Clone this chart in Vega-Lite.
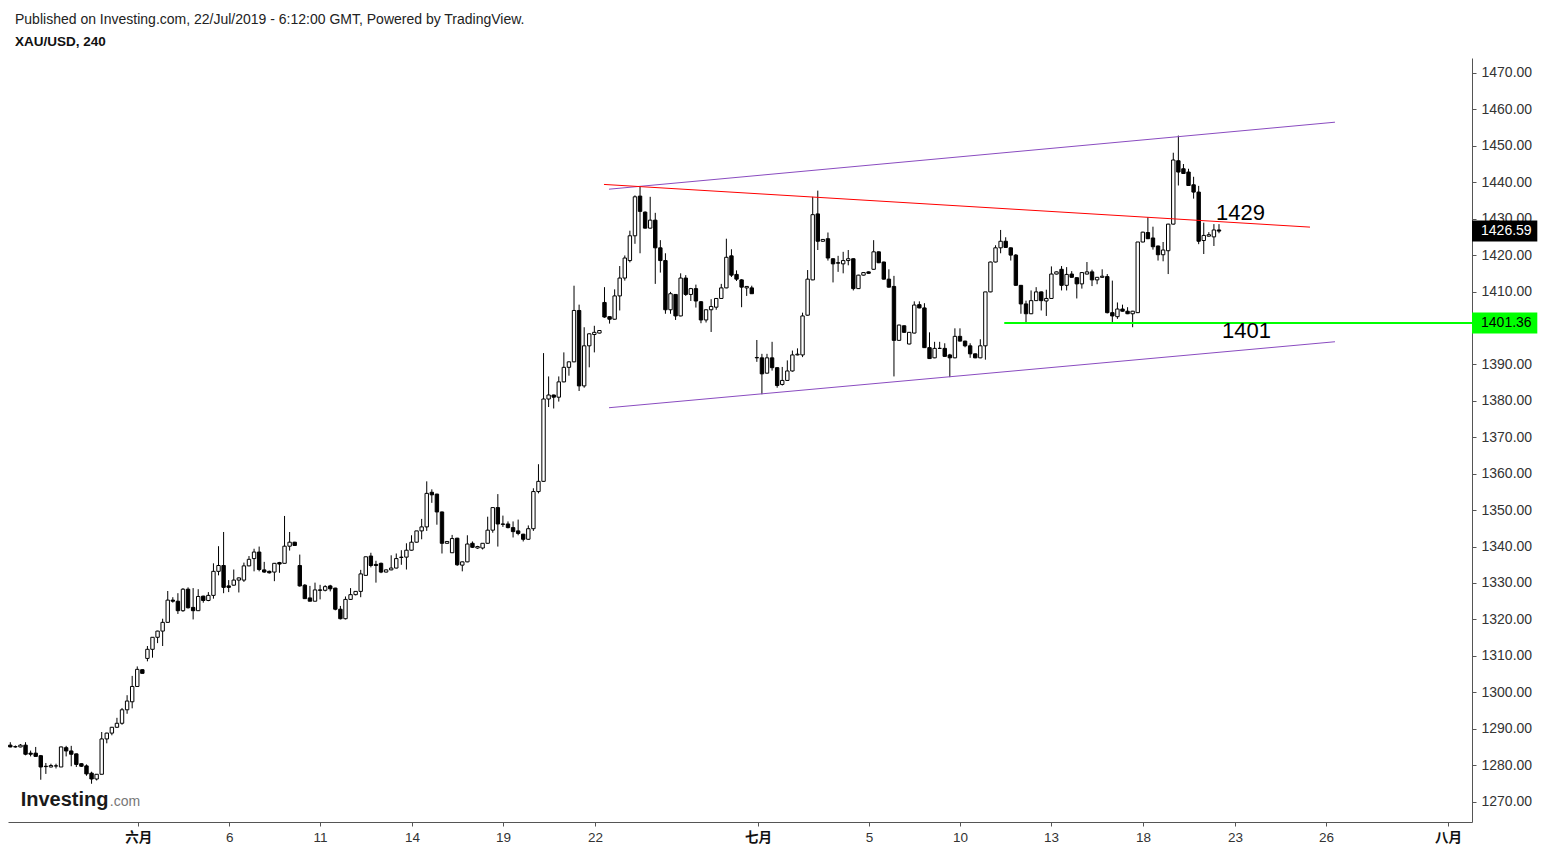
{
  "$schema": "https://vega.github.io/schema/vega-lite/v6.json",
  "width": 1464,
  "height": 764,
  "autosize": {"type": "none"},
  "padding": {"left": 8, "top": 58, "right": 72, "bottom": 30},
  "background": "white",
  "config": {"view": {"stroke": null}, "font": "Liberation Sans", "scale": {"continuousPadding": 0}},
  "title": {
    "text": "Published on Investing.com, 22/Jul/2019 - 6:12:00 GMT, Powered by TradingView.",
    "subtitle": "XAU/USD, 240",
    "anchor": "start",
    "frame": "group",
    "offset": 10,
    "dx": 7,
    "font": "Liberation Sans",
    "fontSize": 14,
    "fontWeight": "normal",
    "color": "#222222",
    "subtitleFont": "Liberation Sans",
    "subtitleFontSize": 13.5,
    "subtitleFontWeight": "bold",
    "subtitleColor": "#111111",
    "subtitlePadding": 8
  },
  "datasets": {
    "candles": [
      {"i":0,"o":1285.5,"h":1286.3,"l":1284.9,"c":1285.0},
      {"i":1,"o":1285.0,"h":1285.4,"l":1284.8,"c":1285.1},
      {"i":2,"o":1285.0,"h":1285.8,"l":1284.9,"c":1285.5},
      {"i":3,"o":1285.5,"h":1286.3,"l":1282.7,"c":1283.0},
      {"i":4,"o":1283.3,"h":1284.0,"l":1282.4,"c":1283.0},
      {"i":5,"o":1283.3,"h":1285.0,"l":1282.4,"c":1282.4},
      {"i":6,"o":1282.6,"h":1282.8,"l":1276.0,"c":1279.5},
      {"i":7,"o":1279.6,"h":1280.6,"l":1277.6,"c":1279.7},
      {"i":8,"o":1279.5,"h":1280.4,"l":1279.4,"c":1279.9},
      {"i":9,"o":1279.8,"h":1280.4,"l":1279.1,"c":1279.8},
      {"i":10,"o":1279.5,"h":1285.1,"l":1279.5,"c":1285.0},
      {"i":11,"o":1284.8,"h":1285.3,"l":1282.4,"c":1283.9},
      {"i":12,"o":1283.9,"h":1285.3,"l":1279.7,"c":1283.0},
      {"i":13,"o":1283.1,"h":1283.2,"l":1279.5,"c":1280.2},
      {"i":14,"o":1280.4,"h":1280.5,"l":1279.5,"c":1279.7},
      {"i":15,"o":1279.8,"h":1280.2,"l":1277.1,"c":1277.6},
      {"i":16,"o":1277.8,"h":1278.2,"l":1274.9,"c":1276.2},
      {"i":17,"o":1276.2,"h":1277.5,"l":1275.8,"c":1277.5},
      {"i":18,"o":1277.5,"h":1289.1,"l":1277.5,"c":1287.2},
      {"i":19,"o":1287.2,"h":1288.9,"l":1286.0,"c":1288.8},
      {"i":20,"o":1288.8,"h":1290.5,"l":1288.2,"c":1290.4},
      {"i":21,"o":1290.4,"h":1293.0,"l":1290.2,"c":1291.5},
      {"i":22,"o":1291.5,"h":1295.7,"l":1291.1,"c":1295.2},
      {"i":23,"o":1295.2,"h":1299.2,"l":1294.1,"c":1297.6},
      {"i":24,"o":1297.4,"h":1304.5,"l":1295.6,"c":1301.6},
      {"i":25,"o":1301.6,"h":1307.1,"l":1301.5,"c":1306.3},
      {"i":26,"o":1306.2,"h":1306.3,"l":1305.2,"c":1305.2},
      {"i":27,"o":1309.3,"h":1312.7,"l":1308.5,"c":1311.8},
      {"i":28,"o":1311.8,"h":1315.1,"l":1309.5,"c":1315.1},
      {"i":29,"o":1315.1,"h":1316.9,"l":1313.5,"c":1316.8},
      {"i":30,"o":1316.8,"h":1320.2,"l":1312.7,"c":1319.2},
      {"i":31,"o":1319.2,"h":1327.8,"l":1319.2,"c":1325.3},
      {"i":32,"o":1325.3,"h":1326.1,"l":1324.6,"c":1325.0},
      {"i":33,"o":1325.0,"h":1327.2,"l":1321.5,"c":1322.4},
      {"i":34,"o":1322.4,"h":1328.6,"l":1322.1,"c":1328.3},
      {"i":35,"o":1328.3,"h":1328.8,"l":1323.0,"c":1323.2},
      {"i":36,"o":1323.3,"h":1328.6,"l":1320.0,"c":1322.4},
      {"i":37,"o":1322.4,"h":1328.3,"l":1322.4,"c":1326.3},
      {"i":38,"o":1326.4,"h":1326.5,"l":1324.6,"c":1325.2},
      {"i":39,"o":1325.2,"h":1327.5,"l":1325.0,"c":1326.6},
      {"i":40,"o":1326.6,"h":1335.4,"l":1325.7,"c":1333.2},
      {"i":41,"o":1333.2,"h":1340.1,"l":1332.1,"c":1334.8},
      {"i":42,"o":1334.8,"h":1344.0,"l":1327.2,"c":1328.8},
      {"i":43,"o":1329.2,"h":1330.8,"l":1327.5,"c":1328.8},
      {"i":44,"o":1329.4,"h":1333.7,"l":1329.3,"c":1330.8},
      {"i":45,"o":1330.8,"h":1331.5,"l":1327.4,"c":1331.4},
      {"i":46,"o":1330.8,"h":1335.6,"l":1330.3,"c":1334.7},
      {"i":47,"o":1334.7,"h":1337.4,"l":1334.6,"c":1336.5},
      {"i":48,"o":1336.7,"h":1339.4,"l":1333.2,"c":1338.5},
      {"i":49,"o":1338.5,"h":1340.0,"l":1333.2,"c":1333.7},
      {"i":50,"o":1333.6,"h":1335.8,"l":1332.8,"c":1333.0},
      {"i":51,"o":1333.2,"h":1333.4,"l":1332.6,"c":1332.8},
      {"i":52,"o":1333.0,"h":1335.5,"l":1330.5,"c":1335.4},
      {"i":53,"o":1335.6,"h":1335.8,"l":1332.8,"c":1335.2},
      {"i":54,"o":1335.4,"h":1348.4,"l":1335.4,"c":1340.1},
      {"i":55,"o":1340.1,"h":1344.0,"l":1338.9,"c":1341.2},
      {"i":56,"o":1341.2,"h":1341.3,"l":1340.3,"c":1340.3},
      {"i":57,"o":1334.8,"h":1337.8,"l":1329.0,"c":1329.2},
      {"i":58,"o":1329.4,"h":1329.7,"l":1325.7,"c":1325.7},
      {"i":59,"o":1325.9,"h":1329.2,"l":1325.0,"c":1325.0},
      {"i":60,"o":1325.0,"h":1330.1,"l":1325.0,"c":1328.1},
      {"i":61,"o":1328.1,"h":1329.5,"l":1325.5,"c":1328.0},
      {"i":62,"o":1328.0,"h":1329.4,"l":1327.7,"c":1329.0},
      {"i":63,"o":1329.2,"h":1329.5,"l":1327.7,"c":1328.4},
      {"i":64,"o":1328.6,"h":1328.7,"l":1322.5,"c":1322.8},
      {"i":65,"o":1322.8,"h":1323.7,"l":1320.0,"c":1320.2},
      {"i":66,"o":1320.2,"h":1326.3,"l":1320.0,"c":1325.5},
      {"i":67,"o":1325.5,"h":1328.6,"l":1325.4,"c":1326.8},
      {"i":68,"o":1326.8,"h":1327.8,"l":1326.6,"c":1327.7},
      {"i":69,"o":1327.7,"h":1333.6,"l":1326.1,"c":1332.5},
      {"i":70,"o":1332.1,"h":1337.2,"l":1332.1,"c":1337.2},
      {"i":71,"o":1337.4,"h":1338.3,"l":1334.3,"c":1334.8},
      {"i":72,"o":1335.1,"h":1336.1,"l":1330.1,"c":1334.8},
      {"i":73,"o":1335.4,"h":1335.6,"l":1332.7,"c":1333.0},
      {"i":74,"o":1333.0,"h":1333.7,"l":1332.9,"c":1333.6},
      {"i":75,"o":1333.6,"h":1337.6,"l":1333.5,"c":1334.1},
      {"i":76,"o":1334.1,"h":1338.1,"l":1334.0,"c":1336.7},
      {"i":77,"o":1337.0,"h":1339.0,"l":1335.0,"c":1337.1},
      {"i":78,"o":1337.1,"h":1340.9,"l":1333.7,"c":1339.0},
      {"i":79,"o":1339.0,"h":1343.1,"l":1338.9,"c":1341.2},
      {"i":80,"o":1341.2,"h":1344.3,"l":1341.1,"c":1344.3},
      {"i":81,"o":1344.3,"h":1347.6,"l":1342.0,"c":1345.4},
      {"i":82,"o":1345.4,"h":1357.9,"l":1344.3,"c":1354.6},
      {"i":83,"o":1354.9,"h":1355.7,"l":1352.0,"c":1354.2},
      {"i":84,"o":1354.4,"h":1354.5,"l":1346.0,"c":1349.5},
      {"i":85,"o":1349.5,"h":1349.6,"l":1338.1,"c":1340.9},
      {"i":86,"o":1340.9,"h":1341.5,"l":1340.8,"c":1341.4},
      {"i":87,"o":1338.3,"h":1343.2,"l":1338.3,"c":1342.2},
      {"i":88,"o":1342.3,"h":1342.4,"l":1334.7,"c":1335.0},
      {"i":89,"o":1334.9,"h":1335.9,"l":1333.2,"c":1335.8},
      {"i":90,"o":1335.8,"h":1343.1,"l":1335.7,"c":1340.7},
      {"i":91,"o":1340.9,"h":1341.4,"l":1339.6,"c":1339.8},
      {"i":92,"o":1339.6,"h":1340.2,"l":1339.4,"c":1340.0},
      {"i":93,"o":1339.6,"h":1340.9,"l":1339.2,"c":1340.9},
      {"i":94,"o":1340.9,"h":1348.2,"l":1340.8,"c":1344.5},
      {"i":95,"o":1344.5,"h":1350.7,"l":1343.8,"c":1350.7},
      {"i":96,"o":1350.7,"h":1354.4,"l":1340.0,"c":1346.2},
      {"i":97,"o":1346.2,"h":1348.5,"l":1345.4,"c":1346.1},
      {"i":98,"o":1346.2,"h":1346.9,"l":1345.0,"c":1345.2},
      {"i":99,"o":1345.2,"h":1346.9,"l":1342.5,"c":1344.1},
      {"i":100,"o":1344.3,"h":1347.4,"l":1343.1,"c":1343.6},
      {"i":101,"o":1343.4,"h":1343.5,"l":1341.4,"c":1342.0},
      {"i":102,"o":1342.0,"h":1345.8,"l":1341.9,"c":1344.9},
      {"i":103,"o":1344.9,"h":1356.0,"l":1344.3,"c":1355.1},
      {"i":104,"o":1355.1,"h":1362.6,"l":1354.6,"c":1357.9},
      {"i":105,"o":1357.9,"h":1393.1,"l":1357.8,"c":1380.5},
      {"i":106,"o":1380.5,"h":1386.7,"l":1378.3,"c":1381.6},
      {"i":107,"o":1381.6,"h":1381.7,"l":1377.9,"c":1381.0},
      {"i":108,"o":1381.0,"h":1386.7,"l":1379.8,"c":1385.2},
      {"i":109,"o":1385.2,"h":1393.3,"l":1385.1,"c":1389.2},
      {"i":110,"o":1389.2,"h":1390.8,"l":1386.9,"c":1390.7},
      {"i":111,"o":1390.7,"h":1411.6,"l":1390.6,"c":1404.8},
      {"i":112,"o":1404.8,"h":1406.4,"l":1382.7,"c":1384.1},
      {"i":113,"o":1384.1,"h":1400.2,"l":1383.6,"c":1395.1},
      {"i":114,"o":1395.1,"h":1398.5,"l":1389.2,"c":1398.4},
      {"i":115,"o":1398.2,"h":1400.6,"l":1393.3,"c":1398.8},
      {"i":116,"o":1398.6,"h":1399.4,"l":1398.5,"c":1399.3},
      {"i":117,"o":1407.0,"h":1411.2,"l":1402.8,"c":1403.0},
      {"i":118,"o":1403.1,"h":1403.2,"l":1401.2,"c":1402.4},
      {"i":119,"o":1402.4,"h":1410.6,"l":1402.3,"c":1408.8},
      {"i":120,"o":1408.8,"h":1417.0,"l":1404.8,"c":1413.7},
      {"i":121,"o":1413.7,"h":1419.9,"l":1413.0,"c":1419.2},
      {"i":122,"o":1418.5,"h":1426.7,"l":1418.0,"c":1425.3},
      {"i":123,"o":1425.3,"h":1436.4,"l":1423.1,"c":1436.0},
      {"i":124,"o":1436.2,"h":1438.8,"l":1420.5,"c":1432.0},
      {"i":125,"o":1431.8,"h":1432.0,"l":1427.3,"c":1427.4},
      {"i":126,"o":1427.4,"h":1436.0,"l":1427.3,"c":1429.6},
      {"i":127,"o":1429.6,"h":1431.6,"l":1412.1,"c":1422.0},
      {"i":128,"o":1422.0,"h":1424.1,"l":1415.2,"c":1418.5},
      {"i":129,"o":1418.5,"h":1420.5,"l":1403.9,"c":1405.0},
      {"i":130,"o":1405.0,"h":1409.9,"l":1403.9,"c":1409.4},
      {"i":131,"o":1409.2,"h":1409.3,"l":1402.2,"c":1403.3},
      {"i":132,"o":1403.3,"h":1415.0,"l":1403.2,"c":1413.7},
      {"i":133,"o":1413.7,"h":1414.5,"l":1408.8,"c":1409.2},
      {"i":134,"o":1409.2,"h":1411.0,"l":1407.4,"c":1410.8},
      {"i":135,"o":1410.8,"h":1411.9,"l":1405.6,"c":1407.4},
      {"i":136,"o":1407.2,"h":1407.4,"l":1401.3,"c":1402.2},
      {"i":137,"o":1402.2,"h":1405.0,"l":1401.5,"c":1405.0},
      {"i":138,"o":1405.0,"h":1407.9,"l":1398.9,"c":1405.9},
      {"i":139,"o":1405.7,"h":1408.2,"l":1405.0,"c":1408.1},
      {"i":140,"o":1408.1,"h":1412.1,"l":1408.0,"c":1411.0},
      {"i":141,"o":1411.0,"h":1424.5,"l":1410.9,"c":1419.4},
      {"i":142,"o":1419.8,"h":1421.6,"l":1414.0,"c":1414.5},
      {"i":143,"o":1414.7,"h":1415.8,"l":1412.9,"c":1413.4},
      {"i":144,"o":1413.2,"h":1413.4,"l":1405.7,"c":1411.2},
      {"i":145,"o":1411.0,"h":1411.5,"l":1408.8,"c":1411.4},
      {"i":146,"o":1411.0,"h":1411.6,"l":1409.4,"c":1409.4},
      {"i":147,"o":1391.8,"h":1396.7,"l":1390.7,"c":1391.9},
      {"i":148,"o":1391.8,"h":1392.9,"l":1381.8,"c":1387.4},
      {"i":149,"o":1387.6,"h":1392.9,"l":1387.5,"c":1391.8},
      {"i":150,"o":1391.8,"h":1396.2,"l":1388.3,"c":1389.1},
      {"i":151,"o":1389.1,"h":1389.2,"l":1383.6,"c":1384.2},
      {"i":152,"o":1384.5,"h":1389.3,"l":1384.2,"c":1385.6},
      {"i":153,"o":1385.6,"h":1391.1,"l":1385.5,"c":1388.2},
      {"i":154,"o":1388.2,"h":1393.8,"l":1388.0,"c":1392.6},
      {"i":155,"o":1392.6,"h":1394.4,"l":1392.5,"c":1392.8},
      {"i":156,"o":1392.6,"h":1404.2,"l":1392.0,"c":1403.3},
      {"i":157,"o":1403.5,"h":1415.9,"l":1403.4,"c":1413.4},
      {"i":158,"o":1413.2,"h":1436.0,"l":1413.1,"c":1431.1},
      {"i":159,"o":1431.3,"h":1437.7,"l":1421.4,"c":1423.8},
      {"i":160,"o":1423.8,"h":1424.4,"l":1423.7,"c":1424.3},
      {"i":161,"o":1424.5,"h":1426.2,"l":1418.5,"c":1419.2},
      {"i":162,"o":1419.0,"h":1419.1,"l":1412.5,"c":1417.6},
      {"i":163,"o":1417.9,"h":1419.8,"l":1415.4,"c":1417.8},
      {"i":164,"o":1417.6,"h":1420.9,"l":1415.0,"c":1418.5},
      {"i":165,"o":1418.5,"h":1421.4,"l":1417.2,"c":1419.0},
      {"i":166,"o":1419.0,"h":1419.1,"l":1410.3,"c":1410.8},
      {"i":167,"o":1410.8,"h":1414.6,"l":1410.7,"c":1414.5},
      {"i":168,"o":1414.5,"h":1415.3,"l":1414.4,"c":1415.2},
      {"i":169,"o":1415.4,"h":1415.5,"l":1414.9,"c":1415.0},
      {"i":170,"o":1416.1,"h":1424.1,"l":1416.0,"c":1420.9},
      {"i":171,"o":1420.9,"h":1421.0,"l":1417.8,"c":1417.9},
      {"i":172,"o":1418.1,"h":1418.2,"l":1413.3,"c":1413.4},
      {"i":173,"o":1413.4,"h":1416.1,"l":1411.1,"c":1411.2},
      {"i":174,"o":1411.4,"h":1414.3,"l":1386.7,"c":1396.6},
      {"i":175,"o":1396.6,"h":1400.9,"l":1396.5,"c":1400.8},
      {"i":176,"o":1400.6,"h":1400.7,"l":1398.7,"c":1398.8},
      {"i":177,"o":1395.6,"h":1398.9,"l":1395.5,"c":1398.8},
      {"i":178,"o":1398.6,"h":1407.3,"l":1398.5,"c":1406.3},
      {"i":179,"o":1406.4,"h":1407.3,"l":1405.4,"c":1405.5},
      {"i":180,"o":1405.5,"h":1406.8,"l":1394.5,"c":1394.6},
      {"i":181,"o":1394.6,"h":1398.8,"l":1391.5,"c":1391.6},
      {"i":182,"o":1391.8,"h":1396.2,"l":1391.7,"c":1394.4},
      {"i":183,"o":1394.4,"h":1396.2,"l":1394.3,"c":1394.4},
      {"i":184,"o":1394.4,"h":1395.8,"l":1392.1,"c":1392.2},
      {"i":185,"o":1392.6,"h":1392.9,"l":1386.5,"c":1391.8},
      {"i":186,"o":1391.8,"h":1399.9,"l":1391.7,"c":1397.7},
      {"i":187,"o":1397.7,"h":1399.9,"l":1396.3,"c":1396.4},
      {"i":188,"o":1396.4,"h":1396.5,"l":1394.7,"c":1395.1},
      {"i":189,"o":1395.1,"h":1395.8,"l":1391.8,"c":1392.9},
      {"i":190,"o":1392.9,"h":1393.0,"l":1391.7,"c":1391.8},
      {"i":191,"o":1391.8,"h":1396.9,"l":1391.7,"c":1395.1},
      {"i":192,"o":1395.1,"h":1409.9,"l":1391.3,"c":1409.9},
      {"i":193,"o":1409.9,"h":1418.2,"l":1409.8,"c":1418.1},
      {"i":194,"o":1418.1,"h":1422.7,"l":1418.0,"c":1422.0},
      {"i":195,"o":1422.0,"h":1426.9,"l":1420.5,"c":1423.8},
      {"i":196,"o":1423.8,"h":1424.9,"l":1422.0,"c":1422.1},
      {"i":197,"o":1422.0,"h":1422.1,"l":1418.5,"c":1420.0},
      {"i":198,"o":1420.0,"h":1420.3,"l":1411.6,"c":1411.7},
      {"i":199,"o":1411.7,"h":1411.8,"l":1403.9,"c":1406.6},
      {"i":200,"o":1406.6,"h":1407.5,"l":1401.1,"c":1403.9},
      {"i":201,"o":1403.9,"h":1410.3,"l":1403.8,"c":1407.5},
      {"i":202,"o":1407.5,"h":1411.2,"l":1407.4,"c":1409.9},
      {"i":203,"o":1409.9,"h":1410.0,"l":1404.8,"c":1407.5},
      {"i":204,"o":1407.4,"h":1410.5,"l":1403.3,"c":1408.1},
      {"i":205,"o":1408.1,"h":1416.9,"l":1408.0,"c":1414.8},
      {"i":206,"o":1414.8,"h":1415.5,"l":1414.7,"c":1415.4},
      {"i":207,"o":1416.1,"h":1417.0,"l":1410.3,"c":1411.7},
      {"i":208,"o":1411.7,"h":1416.7,"l":1410.3,"c":1414.7},
      {"i":209,"o":1414.8,"h":1415.6,"l":1413.8,"c":1413.9},
      {"i":210,"o":1413.8,"h":1413.9,"l":1408.1,"c":1412.1},
      {"i":211,"o":1412.1,"h":1415.3,"l":1410.8,"c":1415.2},
      {"i":212,"o":1414.8,"h":1418.1,"l":1414.7,"c":1415.4},
      {"i":213,"o":1415.4,"h":1416.0,"l":1411.5,"c":1413.2},
      {"i":214,"o":1413.2,"h":1414.0,"l":1412.0,"c":1413.9},
      {"i":215,"o":1413.9,"h":1416.1,"l":1413.8,"c":1414.2},
      {"i":216,"o":1414.1,"h":1414.8,"l":1404.0,"c":1404.2},
      {"i":217,"o":1404.2,"h":1413.0,"l":1401.5,"c":1403.3},
      {"i":218,"o":1403.1,"h":1407.0,"l":1402.5,"c":1405.2},
      {"i":219,"o":1405.2,"h":1406.4,"l":1404.5,"c":1404.6},
      {"i":220,"o":1404.6,"h":1405.7,"l":1403.8,"c":1403.9},
      {"i":221,"o":1403.9,"h":1404.7,"l":1400.2,"c":1404.6},
      {"i":222,"o":1404.2,"h":1423.6,"l":1404.1,"c":1423.6},
      {"i":223,"o":1423.6,"h":1426.4,"l":1423.5,"c":1426.3},
      {"i":224,"o":1426.2,"h":1430.4,"l":1424.4,"c":1424.5},
      {"i":225,"o":1424.7,"h":1427.8,"l":1421.5,"c":1422.3},
      {"i":226,"o":1422.5,"h":1422.6,"l":1418.5,"c":1420.1},
      {"i":227,"o":1420.1,"h":1423.6,"l":1418.3,"c":1421.4},
      {"i":228,"o":1421.2,"h":1428.6,"l":1414.8,"c":1428.5},
      {"i":229,"o":1428.5,"h":1448.1,"l":1428.4,"c":1446.1},
      {"i":230,"o":1445.9,"h":1452.8,"l":1439.1,"c":1442.8},
      {"i":231,"o":1443.7,"h":1445.0,"l":1442.3,"c":1442.4},
      {"i":232,"o":1442.8,"h":1443.7,"l":1439.0,"c":1439.1},
      {"i":233,"o":1439.3,"h":1441.5,"l":1435.5,"c":1437.3},
      {"i":234,"o":1437.3,"h":1439.0,"l":1423.0,"c":1423.8},
      {"i":235,"o":1424.0,"h":1428.9,"l":1420.3,"c":1425.4},
      {"i":236,"o":1425.2,"h":1426.3,"l":1425.1,"c":1425.6},
      {"i":237,"o":1425.0,"h":1428.5,"l":1422.5,"c":1426.9},
      {"i":238,"o":1426.9,"h":1428.5,"l":1426.0,"c":1426.59}
    ],
    "channel": [
      {"name":"upper","x1":117.89,"p1":1438.09,"x2":260.84,"p2":1456.48},
      {"name":"lower","x1":117.89,"p1":1378.11,"x2":260.84,"p2":1396.22}
    ],
    "resistance": [{"x1":116.9,"p1":1439.4,"x2":255.92,"p2":1427.68}],
    "support": [{"x1":195.72,"p1":1401.36,"x2":287.82,"p2":1401.36}],
    "notes": [
      {"x":237.41,"p":1429.52,"text":"1429"},
      {"x":238.59,"p":1397.24,"text":"1401"}
    ]
  },
  "layer": [
    {
      "data": {"name": "candles"},
      "mark": {"type": "rule", "color": "#000000", "strokeWidth": 1},
      "encoding": {
        "x": {
          "field": "i",
          "type": "quantitative",
          "title": null,
          "scale": {"domain": [-0.453, 287.82], "nice": false, "zero": false, "padding": 0},
          "axis": {
            "orient": "bottom",
            "values": [25.2, 43.12, 60.98, 79.1, 97.02, 115.13, 147.22, 169.08, 186.99, 204.91, 223.03, 241.14, 259.06, 283.09],
            "tickCount": 40,
            "labelExpr": "datum.value < 30 ? '六月' : datum.value < 50 ? '6' : datum.value < 70 ? '11' : datum.value < 90 ? '14' : datum.value < 100 ? '19' : datum.value < 120 ? '22' : datum.value < 150 ? '七月' : datum.value < 175 ? '5' : datum.value < 195 ? '10' : datum.value < 210 ? '13' : datum.value < 230 ? '18' : datum.value < 250 ? '23' : datum.value < 270 ? '26' : '八月'",
            "labelFontWeight": {"condition": {"test": "datum.value < 30 || (datum.value > 140 && datum.value < 150) || datum.value > 280", "value": "bold"}, "value": "normal"},
            "labelColor": {"condition": {"test": "datum.value < 30 || (datum.value > 140 && datum.value < 150) || datum.value > 280", "value": "#111111"}, "value": "#333333"},
            "labelFont": "Liberation Sans, 'Noto Sans CJK SC'",
            "labelFontSize": 13.5,
            "labelPadding": 4,
            "labelOverlap": false,
            "labelFlush": false,
            "grid": false,
            "domainColor": "#555555",
            "tickColor": "#555555",
            "tickSize": 4
          }
        },
        "y": {
          "field": "l",
          "type": "quantitative",
          "title": null,
          "scale": {"domain": [1264.4, 1474.1], "nice": false, "zero": false, "padding": 0},
          "axis": {
            "orient": "right",
            "values": [1270, 1280, 1290, 1300, 1310, 1320, 1330, 1340, 1350, 1360, 1370, 1380, 1390, 1400, 1410, 1420, 1430, 1440, 1450, 1460, 1470],
            "tickCount": 30,
            "format": ".2f",
            "labelFont": "Liberation Sans",
            "labelFontSize": 14,
            "labelColor": "#333333",
            "labelPadding": 5,
            "labelOverlap": false,
            "labelFlush": false,
            "grid": false,
            "domainColor": "#555555",
            "tickColor": "#555555",
            "tickSize": 4
          }
        },
        "y2": {"field": "h"}
      }
    },
    {
      "data": {"name": "candles"},
      "mark": {"type": "bar", "orient": "vertical", "size": 3.4, "stroke": "#000000", "strokeWidth": 1},
      "encoding": {
        "x": {"field": "i", "type": "quantitative", "title": null, "scale": {"domain": [-0.453, 287.82], "nice": false, "zero": false, "padding": 0}},
        "y": {"field": "o", "type": "quantitative", "title": null, "scale": {"domain": [1264.4, 1474.1], "nice": false, "zero": false, "padding": 0}},
        "y2": {"field": "c"},
        "fill": {"condition": {"test": "datum.c < datum.o", "value": "#000000"}, "value": "#ffffff"}
      }
    },
    {
      "data": {"name": "channel"},
      "mark": {"type": "rule", "color": "#8a4cc0", "strokeWidth": 1},
      "encoding": {
        "x": {"field": "x1", "type": "quantitative", "title": null, "scale": {"domain": [-0.453, 287.82], "nice": false, "zero": false, "padding": 0}},
        "x2": {"field": "x2"},
        "y": {"field": "p1", "type": "quantitative", "title": null, "scale": {"domain": [1264.4, 1474.1], "nice": false, "zero": false, "padding": 0}},
        "y2": {"field": "p2"}
      }
    },
    {
      "data": {"name": "resistance"},
      "mark": {"type": "rule", "color": "#ff0000", "strokeWidth": 1},
      "encoding": {
        "x": {"field": "x1", "type": "quantitative", "title": null, "scale": {"domain": [-0.453, 287.82], "nice": false, "zero": false, "padding": 0}},
        "x2": {"field": "x2"},
        "y": {"field": "p1", "type": "quantitative", "title": null, "scale": {"domain": [1264.4, 1474.1], "nice": false, "zero": false, "padding": 0}},
        "y2": {"field": "p2"}
      }
    },
    {
      "data": {"name": "support"},
      "mark": {"type": "rule", "color": "#00ff00", "strokeWidth": 2},
      "encoding": {
        "x": {"field": "x1", "type": "quantitative", "title": null, "scale": {"domain": [-0.453, 287.82], "nice": false, "zero": false, "padding": 0}},
        "x2": {"field": "x2"},
        "y": {"field": "p1", "type": "quantitative", "title": null, "scale": {"domain": [1264.4, 1474.1], "nice": false, "zero": false, "padding": 0}},
        "y2": {"field": "p2"}
      }
    },
    {
      "data": {"name": "notes"},
      "mark": {"type": "text", "align": "left", "baseline": "alphabetic", "fontSize": 22, "font": "Liberation Sans", "color": "#000000"},
      "encoding": {
        "x": {"field": "x", "type": "quantitative", "title": null, "scale": {"domain": [-0.453, 287.82], "nice": false, "zero": false, "padding": 0}},
        "y": {"field": "p", "type": "quantitative", "title": null, "scale": {"domain": [1264.4, 1474.1], "nice": false, "zero": false, "padding": 0}},
        "text": {"field": "text"}
      }
    },
    {
      "data": {"values": [{"x1": 287.82, "x2": 300.68, "p": 1426.59}]},
      "mark": {"type": "bar", "orient": "horizontal", "size": 21, "color": "#000000"},
      "encoding": {
        "x": {"field": "x1", "type": "quantitative", "title": null, "scale": {"domain": [-0.453, 287.82], "nice": false, "zero": false, "padding": 0}},
        "x2": {"field": "x2"},
        "y": {"field": "p", "type": "quantitative", "title": null, "scale": {"domain": [1264.4, 1474.1], "nice": false, "zero": false, "padding": 0}}
      }
    },
    {
      "data": {"values": [{"x1": 287.82, "x2": 300.68, "p": 1401.36}]},
      "mark": {"type": "bar", "orient": "horizontal", "size": 21, "color": "#00ff00"},
      "encoding": {
        "x": {"field": "x1", "type": "quantitative", "title": null, "scale": {"domain": [-0.453, 287.82], "nice": false, "zero": false, "padding": 0}},
        "x2": {"field": "x2"},
        "y": {"field": "p", "type": "quantitative", "title": null, "scale": {"domain": [1264.4, 1474.1], "nice": false, "zero": false, "padding": 0}}
      }
    },
    {
      "data": {"values": [{"x": 289.6, "p": 1426.59, "text": "1426.59"}]},
      "mark": {"type": "text", "align": "left", "baseline": "middle", "fontSize": 14, "font": "Liberation Sans", "color": "#ffffff"},
      "encoding": {
        "x": {"field": "x", "type": "quantitative", "title": null, "scale": {"domain": [-0.453, 287.82], "nice": false, "zero": false, "padding": 0}},
        "y": {"field": "p", "type": "quantitative", "title": null, "scale": {"domain": [1264.4, 1474.1], "nice": false, "zero": false, "padding": 0}},
        "text": {"field": "text"}
      }
    },
    {
      "data": {"values": [{"x": 289.6, "p": 1401.36, "text": "1401.36"}]},
      "mark": {"type": "text", "align": "left", "baseline": "middle", "fontSize": 14, "font": "Liberation Sans", "color": "#000000"},
      "encoding": {
        "x": {"field": "x", "type": "quantitative", "title": null, "scale": {"domain": [-0.453, 287.82], "nice": false, "zero": false, "padding": 0}},
        "y": {"field": "p", "type": "quantitative", "title": null, "scale": {"domain": [1264.4, 1474.1], "nice": false, "zero": false, "padding": 0}},
        "text": {"field": "text"}
      }
    },
    {
      "data": {"values": [{"x": 2.05, "p": 1268.85, "text": "Investing"}]},
      "mark": {"type": "text", "align": "left", "baseline": "alphabetic", "fontSize": 20, "fontWeight": "bold", "font": "Liberation Sans", "color": "#1a1a1a", "letterSpacing": -0.5},
      "encoding": {
        "x": {"field": "x", "type": "quantitative", "title": null, "scale": {"domain": [-0.453, 287.82], "nice": false, "zero": false, "padding": 0}},
        "y": {"field": "p", "type": "quantitative", "title": null, "scale": {"domain": [1264.4, 1474.1], "nice": false, "zero": false, "padding": 0}},
        "text": {"field": "text"}
      }
    },
    {
      "data": {"values": [{"x": 19.6, "p": 1268.85, "text": ".com"}]},
      "mark": {"type": "text", "align": "left", "baseline": "alphabetic", "fontSize": 14, "font": "Liberation Sans", "color": "#777777"},
      "encoding": {
        "x": {"field": "x", "type": "quantitative", "title": null, "scale": {"domain": [-0.453, 287.82], "nice": false, "zero": false, "padding": 0}},
        "y": {"field": "p", "type": "quantitative", "title": null, "scale": {"domain": [1264.4, 1474.1], "nice": false, "zero": false, "padding": 0}},
        "text": {"field": "text"}
      }
    }
  ]
}
